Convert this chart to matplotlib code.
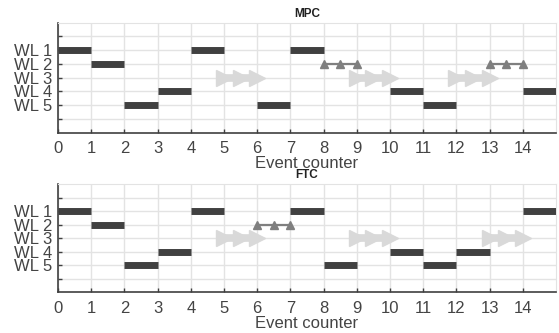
import matplotlib
matplotlib.use('Agg')
import matplotlib.pyplot as plt

#-----Data
wl_labels = ['', 'WL 1', 'WL 2', 'WL 3', 'WL 4', 'WL 5', '']
x_ticks = list(range(15))

# MPC: (start, wordline) of each one-step bar
mpc_bar_start = [0, 4, 7, 1, 3, 10, 14, 2, 6, 11]
mpc_bar_wl = [1, 1, 1, 2, 4, 4, 4, 5, 5, 5]
mpc_tri_start = [8, 13]
mpc_tri_wl = [2, 2]
mpc_arrow_start = [5, 9, 12]
mpc_arrow_wl = [3, 3, 3]

# FTC
ftc_bar_start = [0, 4, 7, 14, 1, 3, 10, 12, 2, 8, 11]
ftc_bar_wl = [1, 1, 1, 1, 2, 4, 4, 4, 5, 5, 5]
ftc_tri_start = [6]
ftc_tri_wl = [2]
ftc_arrow_start = [5, 9, 13]
ftc_arrow_wl = [3, 3, 3]

plt.rcParams['font.family'] = ['Liberation Sans', 'DejaVu Sans']

fig = plt.figure(figsize=(5.59, 3.33), dpi=100)
ax_top = fig.add_axes([0.1038, 0.6021, 0.8909, 0.3297])
ax_bot = fig.add_axes([0.1038, 0.1222, 0.8909, 0.3252])

bar_color = '#404040'
tri_color = '#7f7f7f'
arrow_color = '#d9d9d9'
text_color = '#444444'


def draw(ax, title, bar_start, bar_wl, tri_start, tri_wl, arrow_start, arrow_wl):
    # one-step bars
    for s, w in zip(bar_start, bar_wl):
        ax.plot([s, s + 1], [w, w], color=bar_color, lw=5, solid_capstyle='butt', zorder=3)
    # triangle lines
    for s, w in zip(tri_start, tri_wl):
        ax.plot([s, s + 0.5, s + 1], [w, w, w], color=tri_color, lw=1.6,
                marker='^', markersize=6, zorder=3)
    # light arrows
    for s, w in zip(arrow_start, arrow_wl):
        ax.plot([s, s + 0.5, s + 1], [w, w, w], color=arrow_color, lw=5.5,
                marker='>', markersize=11.5, solid_capstyle='butt', zorder=2)
    ax.set_xlim(0, 15)
    ax.set_ylim(7, -1)
    ax.set_xticks(x_ticks)
    ax.set_xticklabels([str(t) for t in x_ticks], fontsize=12, color=text_color)
    ax.set_yticks(range(7))
    ax.set_yticklabels(wl_labels, fontsize=12, color=text_color)
    ax.tick_params(direction='in', length=3, width=1, color='#404040')
    ax.tick_params(axis='x', pad=6)
    ax.tick_params(axis='y', pad=4)
    ax.grid(True, color='#e3e3e3', lw=1)
    ax.set_axisbelow(True)
    for side in ['top', 'right']:
        ax.spines[side].set_color('#e3e3e3')
    for side in ['left', 'bottom']:
        ax.spines[side].set_color('#404040')
        ax.spines[side].set_linewidth(1.2)
    ax.set_title(title, fontsize=8.5, fontweight='bold', color='#222222', pad=4)
    ax.set_xlabel('Event counter', fontsize=12, color=text_color, labelpad=0)


draw(ax_top, 'MPC', mpc_bar_start, mpc_bar_wl, mpc_tri_start, mpc_tri_wl,
     mpc_arrow_start, mpc_arrow_wl)
draw(ax_bot, 'FTC', ftc_bar_start, ftc_bar_wl, ftc_tri_start, ftc_tri_wl,
     ftc_arrow_start, ftc_arrow_wl)

fig.savefig('out.png', dpi=100)
